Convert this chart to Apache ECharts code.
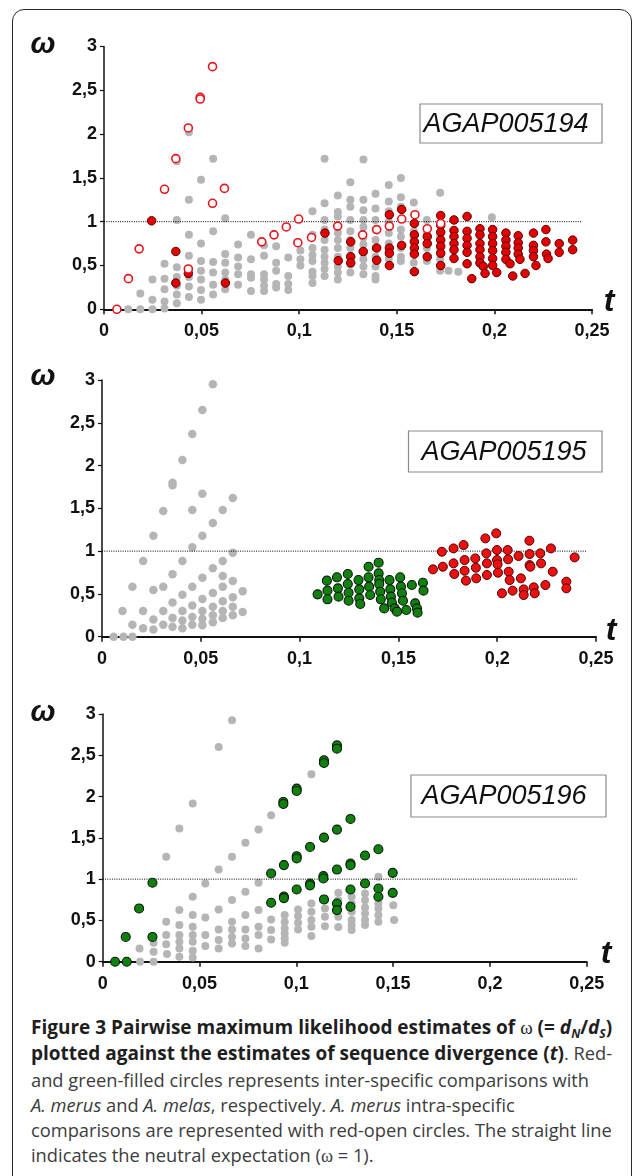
<!DOCTYPE html>
<html><head><meta charset="utf-8">
<script src="https://cdn.jsdelivr.net/npm/echarts@6/dist/echarts.min.js"></script>
<style>
html,body{margin:0;padding:0;background:#fff;}
#wrap{position:relative;width:633px;height:1176px;overflow:hidden;background:#fff;}
#frame{position:absolute;left:12px;top:9px;width:620px;height:1300px;border:1.6px solid #2a2a2a;border-radius:12px 12px 0 0;box-sizing:border-box;}
#chart{position:absolute;left:0;top:0;width:633px;height:1010px;}
#caption{position:absolute;left:31px;top:1014px;width:600px;font-family:'Open Sans';font-size:18.3px;line-height:25.3px;color:#3c3c3c;white-space:nowrap;}
#caption b{color:#1e1e1e;font-size:19px;}
#caption sub{font-size:12px;line-height:0;vertical-align:-0.3em;}
</style></head>
<body>
<div id="wrap">
<div id="frame"></div>
<div id="chart"></div>
<div id="caption"><b>Figure 3 Pairwise maximum likelihood estimates of <span style="font-family:'Liberation Serif';font-weight:normal">ω</span> (= <i>d<sub>N</sub></i>/<i>d<sub>S</sub></i>)</b><br><b>plotted against the estimates of sequence divergence (<i>t</i>)</b>. Red-<br>and green-filled circles represents inter-specific comparisons with<br><i>A. merus</i> and <i>A. melas</i>, respectively. <i>A. merus</i> intra-specific<br>comparisons are represented with red-open circles. The straight line<br>indicates the neutral expectation (<span style="font-family:'Liberation Serif'">ω</span> = 1).</div>
</div>
<script>
// ---------------- data ----------------
const geneNames = ['AGAP005194', 'AGAP005195', 'AGAP005196'];
const xTickValues = [0, 0.05, 0.1, 0.15, 0.2, 0.25];
const yTickValues = [0, 0.5, 1, 1.5, 2, 2.5, 3];
const neutralLine = [[0, 1], [0.245, 1]];

// Panel 1 (AGAP005194)
const gray1 = [
[0.0124,0],
[0.0186,0.18],[0.0186,0],
[0.0248,0.34],[0.0248,0.11],[0.0248,0],
[0.031,0.52],[0.031,0.35],[0.031,0.23],[0.031,0.09],[0.031,0.01],
[0.0373,1.02],[0.0373,1.69],[0.0373,0.48],[0.0373,0.37],[0.0373,0.27],[0.0373,0.17],[0.0373,0.07],
[0.0435,2.02],[0.0435,1.25],[0.0435,0.85],[0.0435,0.61],[0.0435,0.46],[0.0435,0.37],[0.0435,0.26],[0.0435,0.14],
[0.0497,1.48],[0.0497,0.75],[0.0497,0.55],[0.0497,0.44],[0.0497,0.34],[0.0497,0.22],[0.0497,0.11],
[0.0559,1.72],[0.0559,0.89],[0.0559,0.54],[0.0559,0.42],[0.0559,0.28],[0.0559,0.17],
[0.0621,1.04],[0.0621,0.63],[0.0621,0.53],[0.0621,0.42],[0.0621,0.34],[0.0621,0.23],
[0.0687,0.74],[0.0687,0.59],[0.0687,0.49],[0.0687,0.40],[0.0687,0.28],
[0.0753,0.85],[0.0753,0.57],[0.0753,0.40],[0.0753,0.36],[0.0753,0.21],
[0.082,0.73],[0.082,0.61],[0.082,0.40],[0.082,0.34],[0.082,0.27],[0.082,0.21],
[0.0882,0.72],[0.0882,0.53],[0.0882,0.44],[0.0882,0.29],[0.0882,0.25],
[0.0944,0.59],[0.0944,0.38],[0.0944,0.29],[0.0944,0.22],
[0.1006,0.67],[0.1006,0.57],[0.1006,0.50],
[0.1068,1.12],[0.1068,0.85],[0.1068,0.70],[0.1068,0.62],[0.1068,0.55],[0.1068,0.43],[0.1068,0.38],[0.1068,0.30],
[0.113,1.72],[0.113,1.21],[0.113,1.02],[0.113,0.91],[0.113,0.79],[0.113,0.68],[0.113,0.60],[0.113,0.53],[0.113,0.46],[0.113,0.38],
[0.1198,1.30],[0.1198,1.11],[0.1198,1.06],[0.1198,0.87],[0.1198,0.79],[0.1198,0.70],[0.1198,0.60],[0.1198,0.49],[0.1198,0.42],[0.1198,0.34],
[0.1262,1.45],[0.1262,1.25],[0.1262,1.17],[0.1262,1.02],[0.1262,0.89],[0.1262,0.79],[0.1262,0.70],[0.1262,0.61],[0.1262,0.51],[0.1262,0.42],
[0.1329,1.71],[0.1329,1.25],[0.1329,1.13],[0.1329,1.02],[0.1329,0.94],[0.1329,0.82],[0.1329,0.74],[0.1329,0.64],[0.1329,0.57],[0.1329,0.49],[0.1329,0.40],
[0.1391,1.32],[0.1391,1.15],[0.1391,1.02],[0.1391,0.91],[0.1391,0.79],[0.1391,0.70],[0.1391,0.60],[0.1391,0.49],[0.1391,0.38],[0.1391,0.34],
[0.1459,1.42],[0.1459,1.23],[0.1459,1.12],[0.1459,1.0],[0.1459,0.87],[0.1459,0.75],[0.1459,0.66],[0.1459,0.57],
[0.1521,1.50],[0.1521,1.28],[0.1521,1.17],[0.1521,0.91],[0.1521,0.83],[0.1521,0.70],[0.1521,0.60],[0.1521,0.55],
[0.1587,1.22],[0.1587,0.89],[0.1587,0.79],[0.1587,0.64],[0.1587,0.53],
[0.1654,1.02],[0.1654,0.87],[0.1654,0.70],[0.1654,0.55],
[0.1722,1.33],[0.1722,0.83],[0.1722,0.68],[0.1722,0.57],[0.1722,0.49],[0.1722,0.44],
[0.1765,0.44],[0.1815,0.43],
[0.1987,1.05]
];
const redFilled1 = [
[0.0244,1.01],[0.0368,0.66],[0.0368,0.30],[0.0432,0.41],[0.0622,0.30],
[0.1132,0.87],[0.120,0.555],[0.1264,0.77],[0.1264,0.60],[0.1264,0.53],[0.1328,0.66],[0.1397,0.70],[0.1397,0.56],
[0.1462,1.08],[0.1462,0.70],[0.1462,0.64],[0.1462,0.50],
[0.1525,1.14],[0.1525,0.73],
[0.159,0.98],[0.159,0.85],[0.159,0.77],[0.159,0.70],[0.159,0.63],[0.159,0.43],
[0.1656,0.83],[0.1656,0.75],[0.1656,0.60],
[0.1725,1.07],[0.1725,0.96],[0.1725,0.88],[0.1725,0.79],[0.1725,0.72],[0.1725,0.64],[0.1725,0.50],
[0.1793,1.02],[0.1793,0.90],[0.1793,0.83],[0.1793,0.75],[0.1793,0.68],[0.1793,0.58],
[0.186,1.06],[0.186,0.89],[0.186,0.81],[0.186,0.73],[0.186,0.65],[0.186,0.52],[0.1884,0.35],
[0.1926,0.92],[0.1926,0.85],[0.1926,0.75],[0.1926,0.68],[0.1926,0.60],[0.1926,0.53],[0.1943,0.49],[0.1952,0.41],
[0.1991,0.91],[0.1991,0.83],[0.1991,0.75],[0.1991,0.67],[0.1991,0.58],[0.1991,0.50],[0.2012,0.42],
[0.2059,0.87],[0.2059,0.79],[0.2059,0.72],[0.2059,0.65],[0.2059,0.57],[0.208,0.52],[0.2094,0.38],
[0.2122,0.84],[0.2122,0.76],[0.2122,0.70],[0.2122,0.63],[0.2131,0.57],[0.2157,0.41],
[0.22,0.87],[0.22,0.73],[0.22,0.67],[0.22,0.60],[0.2213,0.50],
[0.2264,0.91],[0.2264,0.77],[0.2267,0.63],[0.2275,0.58],
[0.2332,0.75],[0.2332,0.65],
[0.2401,0.79],[0.2401,0.68]
];
const redOpen1 = [
[0.0066,0],[0.0125,0.35],[0.018,0.69],[0.031,1.37],[0.0368,1.72],[0.0432,2.07],[0.0493,2.42],[0.0493,2.40],
[0.0556,2.77],[0.0556,1.21],[0.0617,1.38],[0.0432,0.46],[0.0808,0.77],[0.0871,0.85],[0.0934,0.94],[0.0997,1.03],
[0.0993,0.76],[0.1063,0.82],[0.1197,0.95],[0.1325,0.85],[0.1397,0.91],[0.1462,0.95],[0.1525,1.03],[0.1593,1.08],
[0.1656,0.92],[0.1725,0.98]
];

// Panel 2 (AGAP005195)
const gray2 = [
[0.0059,0],[0.0109,0],[0.0154,0],
[0.0104,0.30],
[0.0154,0.585],[0.0154,0.14],
[0.0208,0.885],[0.0208,0.30],[0.0208,0.10],
[0.026,1.18],[0.026,0.546],[0.026,0.20],[0.026,0.085],
[0.031,1.47],[0.031,0.585],[0.031,0.30],[0.031,0.14],
[0.0357,1.77],[0.0357,1.80],[0.0357,0.73],[0.0357,0.40],[0.0357,0.22],[0.0357,0.115],
[0.0407,2.065],[0.0407,0.885],[0.0407,0.49],[0.0407,0.30],[0.0407,0.19],[0.0407,0.10],
[0.0457,2.37],[0.0457,1.48],[0.0457,1.045],[0.0457,0.585],[0.0457,0.365],[0.0457,0.23],[0.0457,0.14],
[0.0508,2.65],[0.0508,1.67],[0.0508,1.18],[0.0508,0.69],[0.0508,0.44],[0.0508,0.30],[0.0508,0.21],[0.0508,0.135],
[0.0561,2.95],[0.0561,1.33],[0.0561,0.80],[0.0561,0.51],[0.0561,0.35],[0.0561,0.25],[0.0561,0.17],
[0.0611,1.48],[0.0611,0.885],[0.0611,0.71],[0.0611,0.585],[0.0611,0.415],[0.0611,0.30],[0.0611,0.22],
[0.0662,1.62],[0.0662,0.98],[0.0662,0.65],[0.0662,0.46],[0.0662,0.35],[0.0662,0.25],
[0.0712,0.53],[0.0712,0.29]
];
const green2 = [
[0.1091,0.495],
[0.1138,0.655],[0.1141,0.538],[0.1141,0.437],
[0.1189,0.694],[0.1194,0.565],[0.1197,0.468],
[0.1244,0.733],[0.1244,0.616],[0.1248,0.514],[0.1248,0.421],
[0.1298,0.662],[0.1302,0.553],[0.1302,0.448],[0.1307,0.382],
[0.1349,0.818],[0.1349,0.694],[0.1352,0.585],[0.1357,0.487],
[0.1400,0.865],[0.1400,0.740],[0.1403,0.662],[0.1403,0.616],[0.1408,0.526],[0.1411,0.437],[0.1428,0.331],
[0.1455,0.662],[0.1459,0.553],[0.1462,0.468],[0.1467,0.398],[0.1481,0.331],
[0.1509,0.694],[0.1513,0.585],[0.1518,0.507],[0.1523,0.421],[0.1540,0.312],[0.1493,0.293],
[0.1568,0.604],[0.1585,0.390],[0.1594,0.331],[0.1597,0.281],
[0.1624,0.631],[0.1627,0.538]
];
const red2 = [
[0.1675,0.787],
[0.1725,0.818],[0.1720,0.993],
[0.1779,1.032],[0.1779,0.857],[0.1783,0.733],
[0.1830,1.071],[0.1835,0.896],[0.1835,0.771],[0.1842,0.655],
[0.1889,0.915],[0.1892,0.806],[0.1894,0.682],
[0.1940,1.149],[0.1945,0.974],[0.1948,0.857],[0.1948,0.721],
[0.1995,1.208],[0.1999,1.013],[0.1999,0.896],[0.2002,0.845],[0.2004,0.748],
[0.2024,0.507],
[0.2053,1.013],[0.2055,0.904],[0.2058,0.760],[0.2063,0.662],
[0.2078,0.538],
[0.2108,0.943],[0.2120,0.682],
[0.2134,0.553],[0.2134,0.487],
[0.2163,1.122],[0.2164,0.966],[0.2164,0.837],[0.2168,0.818],
[0.2185,0.577],[0.2190,0.507],
[0.2218,0.974],[0.2222,0.857],
[0.2244,0.604],
[0.2272,1.032],
[0.2281,0.760],
[0.2350,0.643],[0.2350,0.565],
[0.2392,0.927]
];

// Panel 3 (AGAP005196)
const gray3 = [
[0.0193,0],[0.0263,0],
[0.019,0.161],
[0.0263,0.23],[0.0263,0.12],
[0.0328,1.27],[0.0328,0.484],[0.0328,0.323],[0.0328,0.21],[0.0332,0.093],
[0.0396,1.613],[0.0396,0.625],[0.0396,0.444],[0.0396,0.323],[0.0396,0.242],[0.0396,0.161],[0.0396,0.06],
[0.0465,1.915],[0.0465,0.786],[0.0465,0.565],[0.0465,0.423],[0.0465,0.323],[0.0465,0.242],[0.0465,0.133],[0.0465,0.05],
[0.053,0.948],[0.053,0.536],[0.053,0.323],[0.053,0.19],
[0.0599,2.60],[0.0599,1.117],[0.0599,0.633],[0.0599,0.39],[0.0599,0.262],[0.0599,0.16],
[0.0668,2.923],[0.0668,1.27],[0.0668,0.746],[0.0668,0.484],[0.0668,0.39],[0.0668,0.30],[0.0668,0.22],
[0.0737,1.44],[0.0737,0.847],[0.0737,0.565],[0.0737,0.39],[0.0737,0.28],[0.0737,0.19],
[0.0805,1.60],[0.0805,0.956],[0.0805,0.625],[0.0805,0.423],[0.0805,0.323],[0.0805,0.161],
[0.087,1.774],[0.087,0.512],[0.087,0.383],[0.087,0.27],
[0.094,0.565],[0.094,0.484],[0.094,0.403],[0.094,0.343],[0.094,0.28],[0.094,0.23],
[0.1009,0.633],[0.1009,0.552],[0.1009,0.472],[0.1009,0.39],
[0.1078,2.27],[0.1078,0.706],[0.1078,0.605],[0.1078,0.504],[0.1078,0.423],[0.1078,0.31],
[0.1148,0.745],[0.1148,0.645],[0.1148,0.544],[0.1148,0.43],
[0.1217,0.834],[0.1217,0.745],[0.1217,0.645],[0.1217,0.544],[0.1217,0.42],
[0.1286,0.786],[0.1286,0.705],[0.1286,0.605],[0.1286,0.504],[0.1286,0.443],[0.1286,0.383],
[0.1355,0.826],[0.1355,0.745],[0.1355,0.657],[0.1355,0.584],[0.1355,0.504],[0.1355,0.443],
[0.1424,1.028],[0.1424,0.705],[0.1424,0.645],[0.1424,0.564],[0.1424,0.484],
[0.1501,0.685],[0.1505,0.504]
];
const green3 = [
[0.0064,0],[0.0124,0],
[0.0119,0.30],[0.0188,0.645],[0.0257,0.956],[0.0257,0.30],
[0.087,1.069],[0.087,0.714],
[0.0936,1.17],[0.0936,0.79],[0.0936,0.77],
[0.0933,1.935],[0.0933,1.91],
[0.1002,2.096],[0.1002,2.068],[0.1002,1.278],[0.1002,1.25],[0.1002,0.875],
[0.1071,1.39],[0.1071,0.947],[0.1071,0.925],
[0.1143,2.438],[0.1143,2.406],[0.1143,1.503],[0.114,1.036],[0.114,1.008],[0.1143,0.754],
[0.121,2.62],[0.121,2.58],[0.121,1.60],[0.121,1.116],[0.121,0.705],[0.121,0.625],
[0.128,1.729],[0.128,1.189],[0.128,1.169],[0.128,0.875],[0.128,0.665],
[0.1355,1.286],[0.1355,0.947],
[0.1424,1.362],[0.1424,0.887],[0.1424,0.786],
[0.1498,1.076],[0.1498,0.834]
];

// ---------------- chart ----------------
const FONT = 'Liberation Sans';
const comma = v => String(Math.round(v * 1000) / 1000).replace('.', ',');
const grids = [
  {left: 104, top: 46.5, width: 488, height: 262.8},
  {left: 102, top: 380, width: 494, height: 256.7},
  {left: 102.7, top: 714, width: 484, height: 247.7}
];
const xAxes = grids.map((g, i) => ({
  type: 'value', gridIndex: i, min: xTickValues[0], max: xTickValues[xTickValues.length - 1], interval: 0.05,
  axisLine: {show: true, onZero: false, lineStyle: {color: '#111', width: 2}},
  axisTick: {show: true, length: 5, lineStyle: {color: '#111', width: 1.5}},
  splitLine: {show: false},
  axisLabel: {formatter: comma, fontFamily: FONT, fontWeight: 'bold', fontSize: 18, color: '#111', margin: 13}
}));
const yAxes = grids.map((g, i) => ({
  type: 'value', gridIndex: i, min: yTickValues[0], max: yTickValues[yTickValues.length - 1], interval: 0.5,
  axisLine: {show: true, onZero: false, lineStyle: {color: '#111', width: 1.5}},
  axisTick: {show: true, length: 4, lineStyle: {color: '#111', width: 1.2}},
  splitLine: {show: false},
  axisLabel: {formatter: comma, fontFamily: FONT, fontWeight: 'bold', fontSize: 18, color: '#111', margin: 7}
}));

const GRAY = '#b5b5b5';
function scatter(i, data, size, style, z) {
  return {type: 'scatter', xAxisIndex: i, yAxisIndex: i, data: data, symbolSize: size,
    itemStyle: style, z: z, silent: true, animation: false};
}
function neutral(i) {
  return {type: 'line', xAxisIndex: i, yAxisIndex: i, data: neutralLine, symbol: 'none', z: 3,
    lineStyle: {color: '#000', width: 1, type: [1, 1.3]}, silent: true, animation: false};
}
const redFill = {color: '#e20000', borderColor: '#5a0000', borderWidth: 1, opacity: 1};
const redFill2 = {color: '#ec1010', borderColor: '#4a0000', borderWidth: 1, opacity: 1};
const greenFill = {color: '#118011', borderColor: '#061a06', borderWidth: 1.1, opacity: 1};
const openRed = {color: '#ffffff', borderColor: '#e8141c', borderWidth: 1.6, opacity: 1};
const grayFill = {color: GRAY, opacity: 1};

const series = [
  scatter(0, gray1, 8, grayFill, 2), neutral(0), scatter(0, redFilled1, 8.5, redFill, 4), scatter(0, redOpen1, 8, openRed, 5),
  scatter(1, gray2, 8.5, grayFill, 2), neutral(1), scatter(1, green2, 9, greenFill, 4), scatter(1, red2, 9, redFill2, 4),
  scatter(2, gray3, 8, grayFill, 2), neutral(2), scatter(2, green3, 9, greenFill, 4)
];

const boxes = [
  {x: 420, y: 104, w: 182, h: 39, cx: 506, cy: 124},
  {x: 408.5, y: 431, w: 193.5, h: 41, cx: 504, cy: 452},
  {x: 411, y: 775, w: 195, h: 42, cx: 504, cy: 796}
];
const omegaPos = [[43, 45], [43, 377], [43, 713]];
const tPos = [[609, 302], [611, 631], [606, 954]];
const graphic = [];
boxes.forEach((b, i) => {
  graphic.push({type: 'rect', shape: {x: b.x, y: b.y, width: b.w, height: b.h},
    style: {fill: '#fff', stroke: '#8a8a8a', lineWidth: 1.2}, z: 10});
  graphic.push({type: 'text', x: b.cx, y: b.cy, z: 11,
    style: {text: geneNames[i], fill: '#111', font: 'italic 27px "Liberation Sans"', textAlign: 'center', textVerticalAlign: 'middle'}});
});
omegaPos.forEach(p => graphic.push({type: 'text', x: p[0], y: p[1], z: 11,
  style: {text: 'ω', fill: '#111', font: 'italic bold 30px "Liberation Sans"', textAlign: 'center', textVerticalAlign: 'middle'}}));
tPos.forEach(p => graphic.push({type: 'text', x: p[0], y: p[1], z: 11,
  style: {text: 't', fill: '#111', font: 'italic bold 32px "Liberation Sans"', textAlign: 'center', textVerticalAlign: 'middle'}}));

const chart = echarts.init(document.getElementById('chart'), null, {renderer: 'canvas'});
chart.setOption({
  animation: false,
  grid: grids,
  xAxis: xAxes,
  yAxis: yAxes,
  series: series,
  graphic: graphic
});
</script>
</body></html>
